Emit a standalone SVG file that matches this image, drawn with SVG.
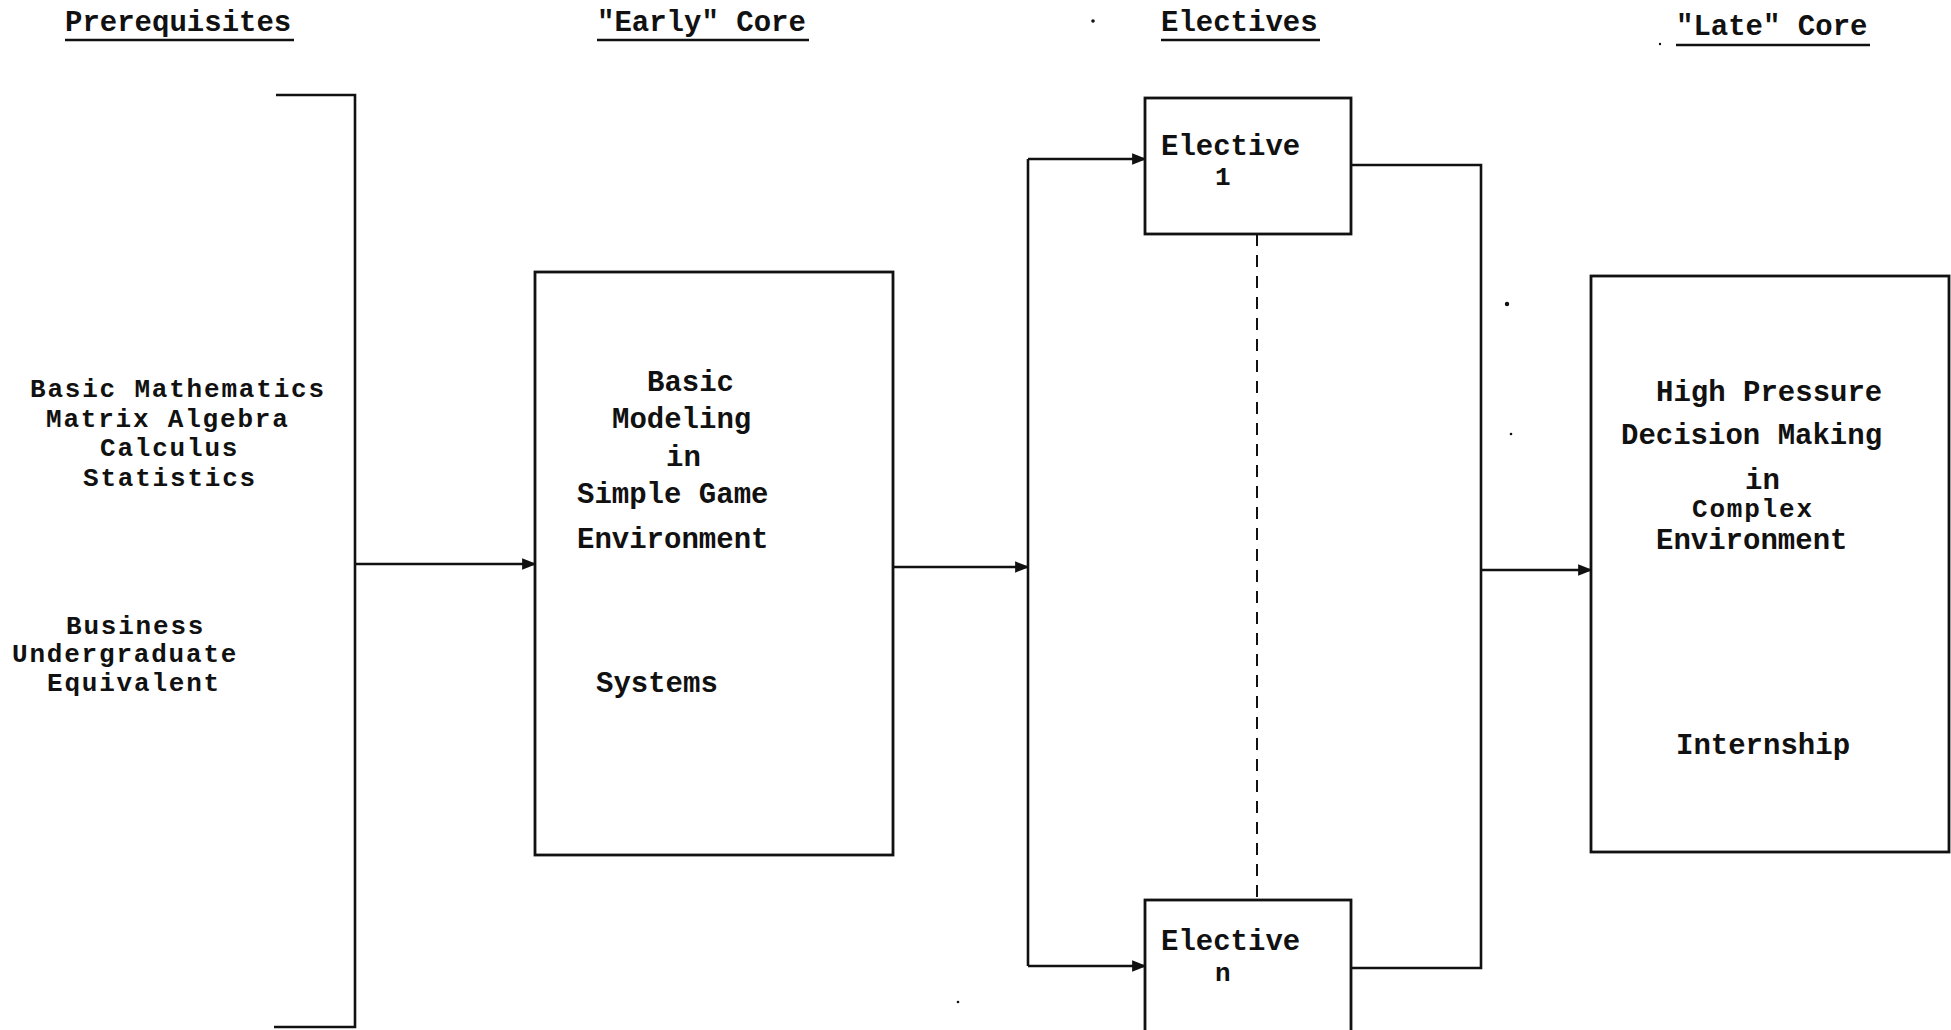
<svg xmlns="http://www.w3.org/2000/svg" width="1951" height="1030" viewBox="0 0 1951 1030">
<style>
text{font-family:"Liberation Mono","Courier New",monospace;font-weight:bold;font-size:29px;fill:#111}
text.tight{font-size:26px;letter-spacing:1.8px}
.ln{stroke:#111;stroke-width:2.6;fill:none}
.box{stroke:#111;stroke-width:2.8;fill:#fff}
.dash{stroke:#111;stroke-width:2;stroke-dasharray:12 9;fill:none}
</style>
<defs>
<marker id="ah" viewBox="0 0 10 10" refX="9" refY="5" markerWidth="5.5" markerHeight="5.5" orient="auto" markerUnits="strokeWidth">
<path d="M0,1 L10,5 L0,9 z" fill="#111"/>
</marker>
</defs>
<rect width="1951" height="1030" fill="#fff"/>
<g id="headers">
<text x="65" y="31">Prerequisites</text>
<line class="ln" x1="65" y1="40" x2="294" y2="40"/>
<text x="597" y="31">"Early" Core</text>
<line class="ln" x1="597" y1="40" x2="809" y2="40"/>
<text x="1161" y="31">Electives</text>
<line class="ln" x1="1161" y1="40" x2="1320" y2="40"/>
<text x="1676" y="35">"Late" Core</text>
<line class="ln" x1="1676" y1="45" x2="1870" y2="45"/>
</g>
<g id="prerequisites">
<path class="ln" d="M276,95 H355 V1027 H274"/>
<text class="tight" x="30" y="397">Basic Mathematics</text>
<text class="tight" x="46" y="427">Matrix Algebra</text>
<text class="tight" x="100" y="456">Calculus</text>
<text class="tight" x="83" y="486">Statistics</text>
<text class="tight" x="66" y="634">Business</text>
<text class="tight" x="12" y="662">Undergraduate</text>
<text class="tight" x="47" y="691">Equivalent</text>
</g>
<g id="early-core">
<rect class="box" x="535" y="272" width="358" height="583"/>
<text x="647" y="391">Basic</text>
<text x="612" y="428">Modeling</text>
<text x="666" y="466">in</text>
<text x="577" y="503">Simple Game</text>
<text x="577" y="548">Environment</text>
<text x="596" y="692">Systems</text>
</g>
<g id="elective-1">
<rect class="box" x="1145" y="98" width="206" height="136"/>
<text x="1161" y="155">Elective</text>
<text class="tight" x="1215" y="185">1</text>
</g>
<g id="elective-n">
<rect class="box" x="1145" y="900" width="206" height="140"/>
<text x="1161" y="950">Elective</text>
<text class="tight" x="1215" y="981">n</text>
</g>
<g id="late-core">
<rect class="box" x="1591" y="276" width="358" height="576"/>
<text x="1656" y="401">High Pressure</text>
<text x="1621" y="444">Decision Making</text>
<text x="1745" y="489">in</text>
<text class="tight" x="1692" y="517">Complex</text>
<text x="1656" y="549">Environment</text>
<text x="1676" y="754">Internship</text>
</g>
<g id="connectors">
<line class="ln" x1="355" y1="564" x2="535" y2="564" marker-end="url(#ah)"/>
<line class="ln" x1="893" y1="567" x2="1028" y2="567" marker-end="url(#ah)"/>
<path class="ln" d="M1028,159 V966"/>
<line class="ln" x1="1028" y1="159" x2="1145" y2="159" marker-end="url(#ah)"/>
<line class="ln" x1="1028" y1="966" x2="1145" y2="966" marker-end="url(#ah)"/>
<line class="dash" x1="1257" y1="234" x2="1257" y2="900"/>
<path class="ln" d="M1351,165 H1481 V968 H1351"/>
<line class="ln" x1="1481" y1="570" x2="1591" y2="570" marker-end="url(#ah)"/>
</g>
<g id="specks" fill="#111">
<circle cx="1093" cy="21" r="1.8"/>
<circle cx="1507" cy="304" r="2.2"/>
<circle cx="1511" cy="434" r="1.3"/>
<circle cx="958" cy="1002" r="1.3"/>
<circle cx="1660" cy="44" r="1.2"/>
</g>
</svg>
